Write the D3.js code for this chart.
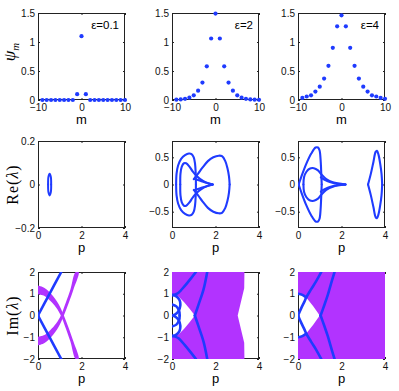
<!DOCTYPE html>
<html>
<head>
<meta charset="utf-8">
<script src="https://cdn.jsdelivr.net/npm/d3@7"></script>
<style>
body { margin: 0; background: #fff; }
svg { display: block; }
</style>
</head>
<body>
<svg id="fig" width="399" height="391"></svg>
<script>
// ---- row 1: site profiles psi_m ----
var sites = [-9,-8,-7,-6,-5,-4,-3,-2,-1,0,1,2,3,4,5,6,7,8,9,10];
var psiEps01 = [0,0,0,0,0,0,0,0,0.10,1.10,0.10,0,0,0,0,0,0,0,0,0];
var psiEps2 = [0.005,0.01,0.02,0.04,0.08,0.16,0.30,0.58,1.06,1.49,1.06,0.58,0.30,0.16,0.08,0.04,0.02,0.01,0.005,0.003];
var psiEps4 = [0.035,0.06,0.08,0.146,0.23,0.37,0.59,0.90,1.27,1.46,1.27,0.90,0.59,0.37,0.23,0.146,0.08,0.06,0.035,0.02];
var epsLabels = ["ε=0.1", "ε=2", "ε=4"];
var mTicks = [-10, 0, 10];
var psiTicks = [0, 0.5, 1, 1.5];

// ---- row 2: Re(lambda) vs p, upper halves (spectrum is symmetric) ----
var reEps01 = [
  {p: [0.465,0.48,0.535,0.59,0.605], v: [0,0.035,0.05,0.035,0]}
];
var reEps2 = [
  {p: [0.19,0.21,0.28,0.42,0.6,0.78,0.9,1.0,1.06,1.09,1.1], v: [0,0.2,0.35,0.47,0.54,0.57,0.56,0.5,0.38,0.2,0]},
  {p: [0.38,0.39,0.45,0.55,0.65,0.8,0.95,1.1,1.3,1.6,1.87], v: [0,0.2,0.33,0.39,0.39,0.33,0.24,0.17,0.1,0.03,0]},
  {p: [1.0,1.2,1.4,1.65,1.9,2.15,2.3,2.45,2.55,2.62,2.65], v: [0.1,0.2,0.31,0.43,0.5,0.53,0.52,0.43,0.3,0.15,0]},
  {p: [1.05,1.3,1.6,1.87], v: [0.1,0.07,0.03,0]}
];
var reEps4 = [
  {p: [0.03,0.15,0.38,0.61,0.81,0.92,0.99,1.04,1.07,1.09], v: [0,0.14,0.38,0.57,0.68,0.68,0.63,0.45,0.2,0]},
  {p: [0.25,0.28,0.38,0.53,0.73,0.92,1.07,1.3,1.6,2.18], v: [0,0.14,0.23,0.29,0.3,0.26,0.19,0.1,0.04,0]},
  {p: [1.05,1.25,1.5,1.85,2.18], v: [0.13,0.08,0.04,0.01,0]},
  {p: [3.22,3.35,3.47,3.57,3.63,3.7,3.78,3.84,3.87], v: [0,0.2,0.42,0.6,0.62,0.55,0.38,0.2,0]}
];
var reTicksSmall = [-0.2, 0, 0.2];
var reTicksBig = [-0.5, 0, 0.5];

// ---- row 3: Im(lambda) vs p ----
var imBlueEps01 = [
  {p: [0,0.5,1.07], v: [0,0.94,2]}
];
var bandOuterP = [0,0.3,0.62,0.95,1.19,1.42,1.63,1.87];
var bandOuterV = [1.38,1.27,0.98,0.52,0,-0.6,-1.2,-2];
var bandInnerP = [0,0.3,0.56,0.84,1.05,1.28,1.49,1.73];
var bandInnerV = [0.98,0.9,0.68,0.36,0,-0.6,-1.2,-2];

var contEps2 = {p: [0,3.33,3.32,3.02], v: [2,2,1.25,0]};
var gapEps2 = {p: [0,0.3,0.55,0.8,1.05], v: [0.95,0.87,0.62,0.32,0]};
var imBlueEps2 = [
  {p: [0,0.15,0.3,0.58,0.88,1.1], v: [0.93,0.97,1.05,1.35,1.72,2]},
  {p: [1.05,1.22,1.45,1.62], v: [0,0.5,1.2,2]},
  {p: [0,0.2,0.35,0.38,0.3,0.15,0], v: [0.95,0.88,0.7,0.45,0.2,0.05,0]},
  {p: [0,0.2,0.33,0.35], v: [0.5,0.42,0.2,0]}
];
var contEps4 = {p: [0,4,4], v: [2,2,0]};
var gapEps4 = {p: [0,0.2,0.38,0.7,1.0], v: [1,0.95,0.83,0.42,0]};
var imBlueEps4 = [
  {p: [0,0.15,0.3,0.38,0.6,0.85,1.07], v: [0,0.34,0.65,0.83,1.2,1.6,2]},
  {p: [0,0.2,0.38], v: [1,0.95,0.83]},
  {p: [1.04,1.2,1.37,1.5,1.68], v: [0,0.45,0.95,1.4,2]}
];
var imTicks = [-2, -1, 0, 1, 2];
var pTicks = [0, 2, 4];

// layout
var W = 87, H = 87;
var colX = [38, 172, 298];
var rowY = [13, 141, 272];
var blue = "#1f3bff", magenta = "#b233ff";
var sans = "'Liberation Sans', Arial, Helvetica, sans-serif";
var serif = "'Liberation Serif', 'Times New Roman', serif";
var fmt = d3.format("~g");

var svg = d3.select("#fig");
svg.append("rect").attr("width", 399).attr("height", 391).attr("fill", "#fff");

function makePanel(r, c, xDom, yDom, xTicks, yTicks, xLabel) {
  var g = svg.append("g").attr("transform", "translate(" + colX[c] + "," + rowY[r] + ")");
  var x = d3.scaleLinear().domain(xDom).range([0, W]);
  var y = d3.scaleLinear().domain(yDom).range([H, 0]);

  g.append("rect").attr("x", 0.5).attr("y", 0.5)
    .attr("width", W - 1).attr("height", H - 1)
    .attr("fill", "none").attr("stroke", "#222").attr("stroke-width", 1);

  var ax = [
    g.append("g").attr("transform", "translate(0," + H + ")")
      .call(d3.axisBottom(x).tickValues(xTicks).tickFormat(fmt).tickSizeInner(-2).tickSizeOuter(0).tickPadding(3.5)),
    g.append("g")
      .call(d3.axisLeft(y).tickValues(yTicks).tickFormat(fmt).tickSizeInner(-2).tickSizeOuter(0).tickPadding(3)),
    g.append("g")
      .call(d3.axisTop(x).tickValues(xTicks).tickFormat("").tickSizeInner(-2).tickSizeOuter(0)),
    g.append("g").attr("transform", "translate(" + W + ",0)")
      .call(d3.axisRight(y).tickValues(yTicks).tickFormat("").tickSizeInner(-2).tickSizeOuter(0))
  ];
  ax.forEach(function(a) {
    a.attr("font-family", sans).attr("font-size", 10);
    a.select(".domain").remove();
    a.selectAll(".tick line").attr("stroke", "#222");
    a.selectAll(".tick text").attr("fill", "#111");
  });

  g.append("text").attr("x", W / 2).attr("y", H + 23.5)
    .attr("text-anchor", "middle").attr("font-family", sans).attr("font-size", 13)
    .text(xLabel);

  var id = "clip" + r + c;
  g.append("clipPath").attr("id", id).append("rect").attr("width", W).attr("height", H);
  var plot = g.append("g").attr("clip-path", "url(#" + id + ")");
  return {g: g, x: x, y: y, plot: plot};
}

function halves(curve, sign) {
  return curve.p.map(function(p, i) { return [p, sign * curve.v[i]]; });
}

function ring(curve) {
  var up = halves(curve, 1);
  var down = halves(curve, -1).reverse();
  if (up[up.length - 1][1] === 0) down.shift();
  return up.concat(down);
}

function drawCurves(P, curves, width) {
  var line = d3.line()
    .x(function(d) { return P.x(d[0]); })
    .y(function(d) { return P.y(d[1]); })
    .curve(d3.curveCatmullRom.alpha(0.5));
  curves.forEach(function(cv) {
    [1, -1].forEach(function(s) {
      P.plot.append("path").attr("d", line(halves(cv, s)))
        .attr("fill", "none").attr("stroke", blue)
        .attr("stroke-width", width).attr("stroke-linecap", "round").attr("stroke-linejoin", "round");
    });
  });
}

// ---- row 1 ----
var psiSets = [psiEps01, psiEps2, psiEps4];
psiSets.forEach(function(vals, c) {
  var P = makePanel(0, c, [-10, 10], [0, 1.5], mTicks, psiTicks, "m");
  P.g.selectAll("circle.dot").data(vals).enter().append("circle")
    .attr("class", "dot")
    .attr("cx", function(d, i) { return P.x(sites[i]); })
    .attr("cy", function(d) { return P.y(d); })
    .attr("r", 2.1).attr("fill", blue);
  P.g.append("text").attr("x", W - 6).attr("y", 15.5)
    .attr("text-anchor", "end").attr("font-family", sans).attr("font-size", 11.5)
    .text(epsLabels[c]);
});

// ---- row 2 ----
var P4 = makePanel(1, 0, [0, 4], [-0.2, 0.2], pTicks, reTicksSmall, "p");
drawCurves(P4, reEps01, 2);
var P5 = makePanel(1, 1, [0, 4], [-0.8, 0.8], pTicks, reTicksBig, "p");
drawCurves(P5, reEps2, 2.1);
var P6 = makePanel(1, 2, [0, 4], [-0.8, 0.8], pTicks, reTicksBig, "p");
drawCurves(P6, reEps4, 2.1);

// ---- row 3 ----
var P7 = makePanel(2, 0, [0, 4], [-2, 2], pTicks, imTicks, "p");
var bandLine = d3.line()
  .x(function(d) { return P7.x(d[0]); })
  .y(function(d) { return P7.y(d[1]); })
  .curve(d3.curveCatmullRom.alpha(0.5));
[1, -1].forEach(function(s) {
  var outer = bandOuterP.map(function(p, i) { return [p, s * bandOuterV[i]]; });
  var inner = bandInnerP.map(function(p, i) { return [p, s * bandInnerV[i]]; }).reverse();
  P7.plot.append("path").attr("d", bandLine(outer.concat(inner)) + "Z")
    .attr("fill", magenta).attr("stroke", "none");
});
drawCurves(P7, imBlueEps01, 2.6);

function drawContinuum(P, cont, gap) {
  var ln = d3.line()
    .x(function(d) { return P.x(d[0]); })
    .y(function(d) { return P.y(d[1]); });
  P.plot.append("path")
    .attr("d", ln(ring(cont)) + "Z" + ln(ring(gap)) + "Z")
    .attr("fill", magenta).attr("fill-rule", "evenodd").attr("stroke", "none");
}
var P8 = makePanel(2, 1, [0, 4], [-2, 2], pTicks, imTicks, "p");
drawContinuum(P8, contEps2, gapEps2);
drawCurves(P8, imBlueEps2, 2.6);
var P9 = makePanel(2, 2, [0, 4], [-2, 2], pTicks, imTicks, "p");
drawContinuum(P9, contEps4, gapEps4);
drawCurves(P9, imBlueEps4, 2.6);

// ---- y labels ----
var yl1 = svg.append("text").attr("transform", "translate(15,52) rotate(-90)")
  .attr("text-anchor", "middle").attr("font-family", serif).attr("font-style", "italic");
yl1.append("tspan").attr("font-size", 17).text("ψ");
yl1.append("tspan").attr("font-size", 11).attr("dy", 4).text("m");

var yl2 = svg.append("text").attr("transform", "translate(18,184.5) rotate(-90)")
  .attr("text-anchor", "middle").attr("font-family", serif).attr("font-size", 16)
  .attr("letter-spacing", 1);
yl2.append("tspan").text("Re(");
yl2.append("tspan").attr("font-style", "italic").text("λ");
yl2.append("tspan").text(")");

var yl3 = svg.append("text").attr("transform", "translate(18,315.5) rotate(-90)")
  .attr("text-anchor", "middle").attr("font-family", serif).attr("font-size", 16)
  .attr("letter-spacing", 1);
yl3.append("tspan").text("Im(");
yl3.append("tspan").attr("font-style", "italic").text("λ");
yl3.append("tspan").text(")");
</script>
</body>
</html>
